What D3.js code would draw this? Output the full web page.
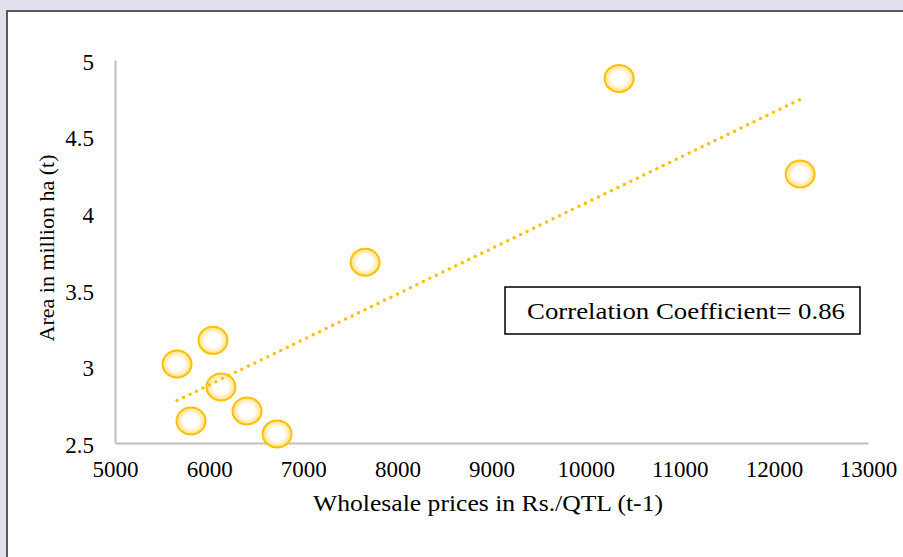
<!DOCTYPE html>
<html>
<head>
<meta charset="utf-8">
<script src="https://cdn.jsdelivr.net/npm/d3@7"></script>
<style>
body { margin: 0; background: #e2dfee; }
svg { display: block; font-family: "Liberation Serif", "Times New Roman", serif; }
</style>
</head>
<body>
<div id="container"></div>
<script>

// wholesale price (t-1) and area (t)
var prices = [10356, 12279, 7657, 6041, 5659, 6126, 6403, 5808, 6722];
var areas = [4.88, 4.256, 3.68, 3.17, 3.016, 2.866, 2.709, 2.644, 2.559];

var xTicks = [5000, 6000, 7000, 8000, 9000, 10000, 11000, 12000, 13000];
var yTicks = [2.5, 3, 3.5, 4, 4.5, 5];

var xTitle = "Wholesale prices in Rs./QTL (t-1)";
var yTitle = "Area in million ha (t)";
var noteText = "Correlation Coefficient= 0.86";

var width = 903, height = 557;

var svg = d3.select("#container").append("svg")
    .attr("width", width)
    .attr("height", height);

// white panel with dark frame
svg.append("rect")
    .attr("x", 7).attr("y", 11)
    .attr("width", width + 10).attr("height", height + 10)
    .attr("fill", "#fff")
    .attr("stroke", "#595959")
    .attr("stroke-width", 2);

var x = d3.scaleLinear().domain([5000, 13000]).range([115, 868]);
var y = d3.scaleLinear().domain([2.5, 5]).range([443, 60]);

var gx = svg.append("g")
    .attr("transform", "translate(0," + y(2.5) + ")")
    .call(d3.axisBottom(x).tickValues(xTicks).tickSize(0).tickSizeOuter(0).tickPadding(18)
        .tickFormat(d3.format("d")));

var gy = svg.append("g")
    .attr("transform", "translate(" + x(5000) + ",0)")
    .call(d3.axisLeft(y).tickValues(yTicks).tickSize(0).tickSizeOuter(0).tickPadding(21)
        .tickFormat(d3.format("")));

[gx, gy].forEach(function(g){
    g.select(".domain").attr("stroke", "#bfbfbf").attr("stroke-width", 2);
    g.selectAll("text")
        .attr("fill", "#000")
        .style("font-family", "Liberation Serif, serif")
        .style("font-size", "23px");
});
gy.selectAll("text").attr("dy", "0.4em");

// marker gradient
var grad = svg.append("defs").append("radialGradient").attr("id", "mk");
grad.append("stop").attr("offset", "0%").attr("stop-color", "#fff");
grad.append("stop").attr("offset", "50%").attr("stop-color", "#fff");
grad.append("stop").attr("offset", "100%").attr("stop-color", "#ffdf80");

var pts = prices.map(function(p, i){ return [p, areas[i]]; });

svg.append("g").selectAll("ellipse")
    .data(pts)
    .enter().append("ellipse")
    .attr("cx", function(d){ return x(d[0]); })
    .attr("cy", function(d){ return y(d[1]); })
    .attr("rx", 14.5)
    .attr("ry", 13.5)
    .attr("fill", "url(#mk)")
    .attr("stroke", "#ffc000")
    .attr("stroke-width", 2);

// least squares trend line
var mx = d3.mean(prices), my = d3.mean(areas);
var sxy = d3.sum(pts, function(d){ return (d[0] - mx) * (d[1] - my); });
var sxx = d3.sum(pts, function(d){ return (d[0] - mx) * (d[0] - mx); });
var slope = sxy / sxx, icept = my - slope * mx;
var ends = d3.extent(prices);

svg.append("line")
    .attr("x1", x(ends[0])).attr("y1", y(icept + slope * ends[0]))
    .attr("x2", x(ends[1])).attr("y2", y(icept + slope * ends[1]))
    .attr("stroke", "#ffc000")
    .attr("stroke-width", 3.5)
    .attr("stroke-linecap", "round")
    .attr("stroke-dasharray", "0 7.2");

// note box
svg.append("rect")
    .attr("x", 505).attr("y", 287)
    .attr("width", 355).attr("height", 47)
    .attr("fill", "#fff")
    .attr("stroke", "#000")
    .attr("stroke-width", 1.5);

svg.append("text")
    .attr("x", 527).attr("y", 319)
    .attr("textLength", 318)
    .attr("lengthAdjust", "spacingAndGlyphs")
    .style("font-size", "24px")
    .text(noteText);

// axis titles
svg.append("text")
    .attr("x", 313).attr("y", 511)
    .attr("textLength", 350)
    .attr("lengthAdjust", "spacingAndGlyphs")
    .style("font-size", "23px")
    .text(xTitle);

svg.append("text")
    .attr("transform", "translate(54,248) rotate(-90)")
    .attr("text-anchor", "middle")
    .style("font-size", "22px")
    .text(yTitle);

</script>
</body>
</html>
